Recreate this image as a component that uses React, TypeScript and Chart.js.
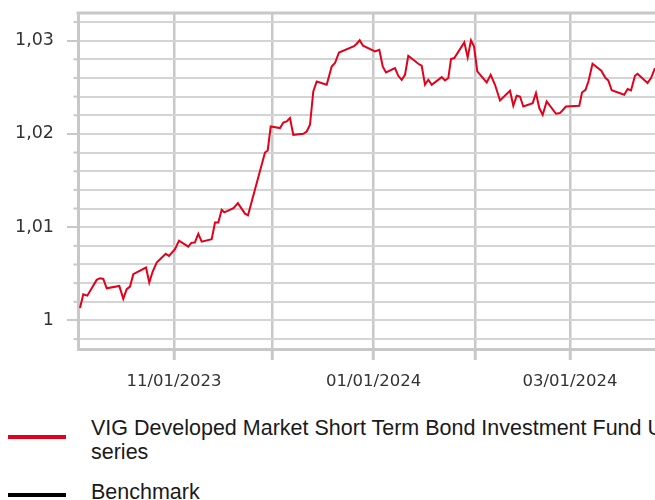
import React, { useEffect, useRef } from 'react';
import { Chart, registerables } from 'chart.js';

Chart.register(...registerables);

// x = days since 2023-10-01
const days = [
  2.29, 3.3, 4.52, 7.39, 8.4, 9.41, 10.45, 14.3, 15.52, 16.56, 17.57, 18.58, 22.46, 23.46, 24.5, 25.73,
  28.48, 29.48, 31.32, 32.54, 35.38, 36.3, 37.37, 38.44, 39.47, 42.53, 43.54, 44.55, 45.58, 46.38, 49.19,
  50.53, 52.7, 53.62, 58.81, 59.64, 60.56, 63.4, 64.41, 65.44, 66.45, 67.46, 70.52, 71.56, 72.56, 73.57,
  74.61, 77.67, 79.19, 80.2, 81.42, 86.01, 86.83, 87.75, 88.76, 92.42, 93.74, 94.78, 95.78, 98.53, 99.54,
  100.58, 101.59, 102.6, 105.65, 106.69, 107.7, 108.71, 109.75, 112.8, 113.81, 114.82, 115.64, 116.65,
  119.71, 120.74, 121.75, 122.67, 123.68, 126.55, 127.77, 129.09, 130.62, 133.67, 134.68, 135.72, 136.73,
  137.73, 140.61, 141.61, 142.62, 143.66, 144.88, 147.72, 148.94, 150.78, 154.84, 155.67, 156.74, 157.65,
  158.88, 161.56, 162.85, 163.7, 164.74, 168.56, 169.63, 170.64, 171.86, 172.63, 175.68, 176.75, 177.97,
];

const fundValues = [
  1.00134, 1.00281, 1.00266, 1.00435, 1.00453, 1.00445, 1.00345, 1.0037, 1.00231, 1.00335, 1.00363,
  1.00496, 1.00567, 1.00406, 1.00524, 1.0062, 1.00714, 1.00692, 1.00764, 1.00856, 1.00792, 1.00832,
  1.00835, 1.00928, 1.00845, 1.00871, 1.01049, 1.01049, 1.01186, 1.01159, 1.01204, 1.01258, 1.01145,
  1.01127, 1.018, 1.01822, 1.02079, 1.02062, 1.02122, 1.02133, 1.0217, 1.0199, 1.02001, 1.02026, 1.02098,
  1.02455, 1.02562, 1.02527, 1.02723, 1.0276, 1.02873, 1.0294, 1.02967, 1.03004, 1.02945, 1.02884,
  1.02902, 1.02723, 1.02659, 1.02706, 1.02623, 1.0258, 1.02634, 1.02838, 1.02752, 1.02731, 1.02527,
  1.0258, 1.02527, 1.02609, 1.02573, 1.02599, 1.02803, 1.02813, 1.02981, 1.0282, 1.03002, 1.02938,
  1.0267, 1.02552, 1.02634, 1.02527, 1.02358, 1.02462, 1.02301, 1.02409, 1.02401, 1.02294, 1.0233,
  1.02438, 1.02277, 1.02205, 1.02348, 1.02216, 1.02223, 1.02294, 1.02301, 1.02444, 1.02473, 1.02564,
  1.02752, 1.02677, 1.02599, 1.02573, 1.02468, 1.0242, 1.02481, 1.02466, 1.02623, 1.02645, 1.02545,
  1.02599, 1.02706,
];

const monthTickDays = [31, 61, 92, 123, 152];
const monthTickLabels = ['11/01/2023', '', '01/01/2024', '', '03/01/2024'];

const yTickValues = [
  0.998, 1.0, 1.002, 1.004, 1.006, 1.008, 1.01, 1.012, 1.014, 1.016, 1.018, 1.02, 1.022, 1.024, 1.026,
  1.028, 1.03, 1.032,
];
const yTickLabels = [
  '', '1', '', '', '', '', '1,01', '', '', '', '', '1,02', '', '', '', '', '1,03', '',
];

const seriesName = 'VIG Developed Market Short Term Bond Investment Fund U series';
const legendLine1 = 'VIG Developed Market Short Term Bond Investment Fund U';
const legendLine2 = 'series';
const benchmarkName = 'Benchmark';

const X_MIN = 1.68;
const X_MAX = 179.5;
const Y_MIN = 0.99694;
const Y_MAX = 1.03296;

const AXIS_GRAY = '#c8c8c8';
const GRID_GRAY = '#d4d4d4';
const TEXT = '#333333';
const RED = '#e2001a';

const framePlugin = {
  id: 'frame',
  afterDraw(chart: any) {
    const { ctx, chartArea, scales } = chart;
    ctx.save();
    ctx.strokeStyle = AXIS_GRAY;
    ctx.lineWidth = 3;
    ctx.beginPath();
    ctx.moveTo(chartArea.left - 1.5, chartArea.top);
    ctx.lineTo(chartArea.right, chartArea.top);
    ctx.stroke();
    // minor ticks on y axis
    ctx.lineWidth = 2;
    const ys = scales.y;
    yTickValues.forEach((v, i) => {
      if (yTickLabels[i] !== '') return;
      const py = ys.getPixelForValue(v);
      ctx.beginPath();
      ctx.moveTo(chartArea.left - 4.5, py);
      ctx.lineTo(chartArea.left, py);
      ctx.stroke();
    });
    ctx.restore();
  },
};

export default function App() {
  const ref = useRef<HTMLCanvasElement | null>(null);

  useEffect(() => {
    if (!ref.current) return;
    const font = { family: '"DejaVu Sans", Verdana, sans-serif', size: 16.5 };
    const yFont = { family: '"DejaVu Sans", Verdana, sans-serif', size: 17.5 };
    const chart = new Chart(ref.current, {
      type: 'line',
      data: {
        datasets: [
          {
            label: seriesName,
            data: days.map((d, i) => ({ x: d, y: fundValues[i] })),
            borderColor: RED,
            borderWidth: 2,
            pointRadius: 0,
            tension: 0,
            fill: false,
          },
        ],
      },
      options: {
        animation: false,
        responsive: false,
        layout: { padding: { top: 13, right: 0, bottom: 0, left: 0 } },
        plugins: { legend: { display: false }, tooltip: { enabled: false } },
        scales: {
          x: {
            type: 'linear',
            min: X_MIN,
            max: X_MAX,
            afterBuildTicks: (s: any) => {
              s.ticks = monthTickDays.map((v) => ({ value: v }));
            },
            afterFit: (s: any) => {
              s.height = 51;
              s.paddingLeft = 0;
              s.paddingRight = 0;
            },
            ticks: {
              autoSkip: false,
              maxRotation: 0,
              minRotation: 0,
              padding: 12,
              color: TEXT,
              font,
              callback: (v: any) => {
                const i = monthTickDays.indexOf(Number(v));
                return i >= 0 ? monthTickLabels[i] : '';
              },
            },
            grid: {
              color: AXIS_GRAY,
              lineWidth: 2.5,
              tickLength: 11,
              tickColor: AXIS_GRAY,
              tickWidth: 3,
            },
            border: { display: true, color: AXIS_GRAY, width: 3 },
          },
          y: {
            type: 'linear',
            min: Y_MIN,
            max: Y_MAX,
            afterBuildTicks: (s: any) => {
              s.ticks = yTickValues.map((v) => ({ value: v }));
            },
            afterFit: (s: any) => {
              s.width = 78;
              s.paddingTop = 0;
              s.paddingBottom = 0;
            },
            ticks: {
              autoSkip: false,
              padding: 13,
              color: TEXT,
              font: yFont,
              callback: (v: any) => {
                const i = yTickValues.findIndex((t) => Math.abs(t - Number(v)) < 1e-7);
                return i >= 0 ? yTickLabels[i] : '';
              },
            },
            grid: {
              color: GRID_GRAY,
              lineWidth: 2,
              tickLength: 11,
              tickWidth: 2,
              tickColor: (c: any) => {
                const i = yTickValues.findIndex((t) => Math.abs(t - Number(c.tick?.value)) < 1e-7);
                return i >= 0 && yTickLabels[i] !== '' ? AXIS_GRAY : 'rgba(0,0,0,0)';
              },
            },
            border: { display: true, color: AXIS_GRAY, width: 3 },
          },
        },
      },
      plugins: [framePlugin],
    } as any);
    return () => chart.destroy();
  }, []);

  const textStyle: React.CSSProperties = {
    position: 'absolute',
    left: 91,
    fontFamily: '"Liberation Sans", Arial, sans-serif',
    fontSize: 21.5,
    lineHeight: '24px',
    color: '#1a1a1a',
    whiteSpace: 'nowrap',
  };

  return (
    <div
      style={{
        position: 'fixed',
        left: 0,
        top: 0,
        width: 655,
        height: 500,
        overflow: 'hidden',
        background: '#ffffff',
      }}
    >
      <canvas
        ref={ref}
        width={660}
        height={400}
        style={{ position: 'absolute', left: 0, top: 0, width: 660, height: 400 }}
      />
      <div style={{ position: 'absolute', left: 8, top: 435, width: 58, height: 4, background: RED }} />
      <div style={{ ...textStyle, top: 416 }}>
        {legendLine1}
        <br />
        {legendLine2}
      </div>
      <div style={{ position: 'absolute', left: 8, top: 493, width: 58, height: 4, background: '#000000' }} />
      <div style={{ ...textStyle, top: 480 }}>{benchmarkName}</div>
    </div>
  );
}
